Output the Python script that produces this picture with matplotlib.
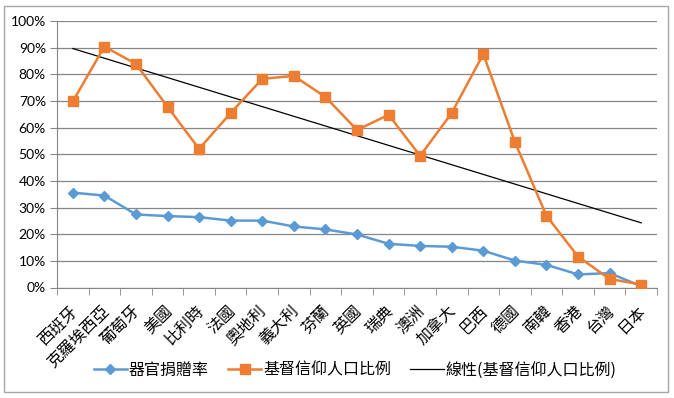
import matplotlib
matplotlib.use("Agg")
import matplotlib.pyplot as plt
import matplotlib.transforms as mtransforms
import numpy as np
from matplotlib.ticker import PercentFormatter, FixedLocator
from matplotlib.patches import Rectangle

plt.rcParams['font.family'] = ['Noto Sans CJK TC', 'DejaVu Sans']

countries = ['西班牙', '克羅埃西亞', '葡萄牙', '美國', '比利時', '法國', '奧地利', '義大利',
             '芬蘭', '英國', '瑞典', '澳洲', '加拿大', '巴西', '德國', '南韓', '香港', '台灣', '日本']
donation = [35.6, 34.5, 27.4, 26.8, 26.4, 25.1, 25.1, 22.9, 21.8, 19.9, 16.4, 15.6, 15.3,
            13.8, 10.1, 8.5, 4.9, 5.4, 0.5]
christian = [69.8, 90.4, 83.9, 67.8, 52.0, 65.5, 78.3, 79.4, 71.5, 59.1, 64.8, 49.4, 65.5,
             87.6, 54.6, 26.9, 11.6, 3.2, 1.1]
yticks = [0, 10, 20, 30, 40, 50, 60, 70, 80, 90, 100]

blue = '#5B9BD5'
orange = '#ED7D31'
grid = '#868686'

fig = plt.figure(figsize=(6.74, 3.98), dpi=100)
fig.patches.append(Rectangle((3.5/674, 1 - 392/398), 664/674, 386/398, transform=fig.transFigure,
                             fill=False, edgecolor='#A6A6A6', linewidth=1))
ax = fig.add_axes([57/674, 1 - 287.5/398, 600/674, 266.5/398])

x = np.arange(len(countries))
ax.plot(x, donation, color=blue, marker='D', markersize=5, linewidth=1.8, label='器官捐贈率', zorder=3)
ax.plot(x, christian, color=orange, marker='s', markersize=6.8, linewidth=1.8, label='基督信仰人口比例', zorder=3)
coef = np.polyfit(x, christian, 1)
ax.plot(x, np.polyval(coef, x), color='black', linewidth=0.9, label='線性(基督信仰人口比例)', zorder=2)

ax.set_xlim(-0.5, len(countries) - 0.5)
ax.set_ylim(0, 100)
ax.set_yticks(yticks)
ax.yaxis.set_major_formatter(PercentFormatter(decimals=0))
ax.grid(axis='y', color=grid, linewidth=0.9)
ax.set_axisbelow(True)
for s in ['top', 'right']:
    ax.spines[s].set_visible(False)
ax.spines['left'].set_color(grid)
ax.spines['bottom'].set_color(grid)
ax.tick_params(axis='y', length=5, color=grid, labelsize=10, pad=3)
for lab in ax.get_yticklabels():
    lab.set_family(['Lato', 'DejaVu Sans'])
ax.set_xticks(x)
ax.set_xticklabels(countries, rotation=45, ha='right', va='center', rotation_mode='anchor', fontsize=11.5)
ax.tick_params(axis='x', which='major', length=0, pad=15)
offset = mtransforms.ScaledTranslation(2/100, 0, fig.dpi_scale_trans)
for lab in ax.get_xticklabels():
    lab.set_transform(lab.get_transform() + offset)
ax.xaxis.set_minor_locator(FixedLocator(np.arange(-0.5, len(countries), 1)))
ax.tick_params(axis='x', which='minor', length=5, color=grid)

leg = fig.legend(loc='center', bbox_to_anchor=(355/674, 1 - 370/398), ncol=3, frameon=False,
                 fontsize=11.5, handlelength=2.1, columnspacing=1.2, handletextpad=0.1)

fig.savefig('out.png', dpi=100)
